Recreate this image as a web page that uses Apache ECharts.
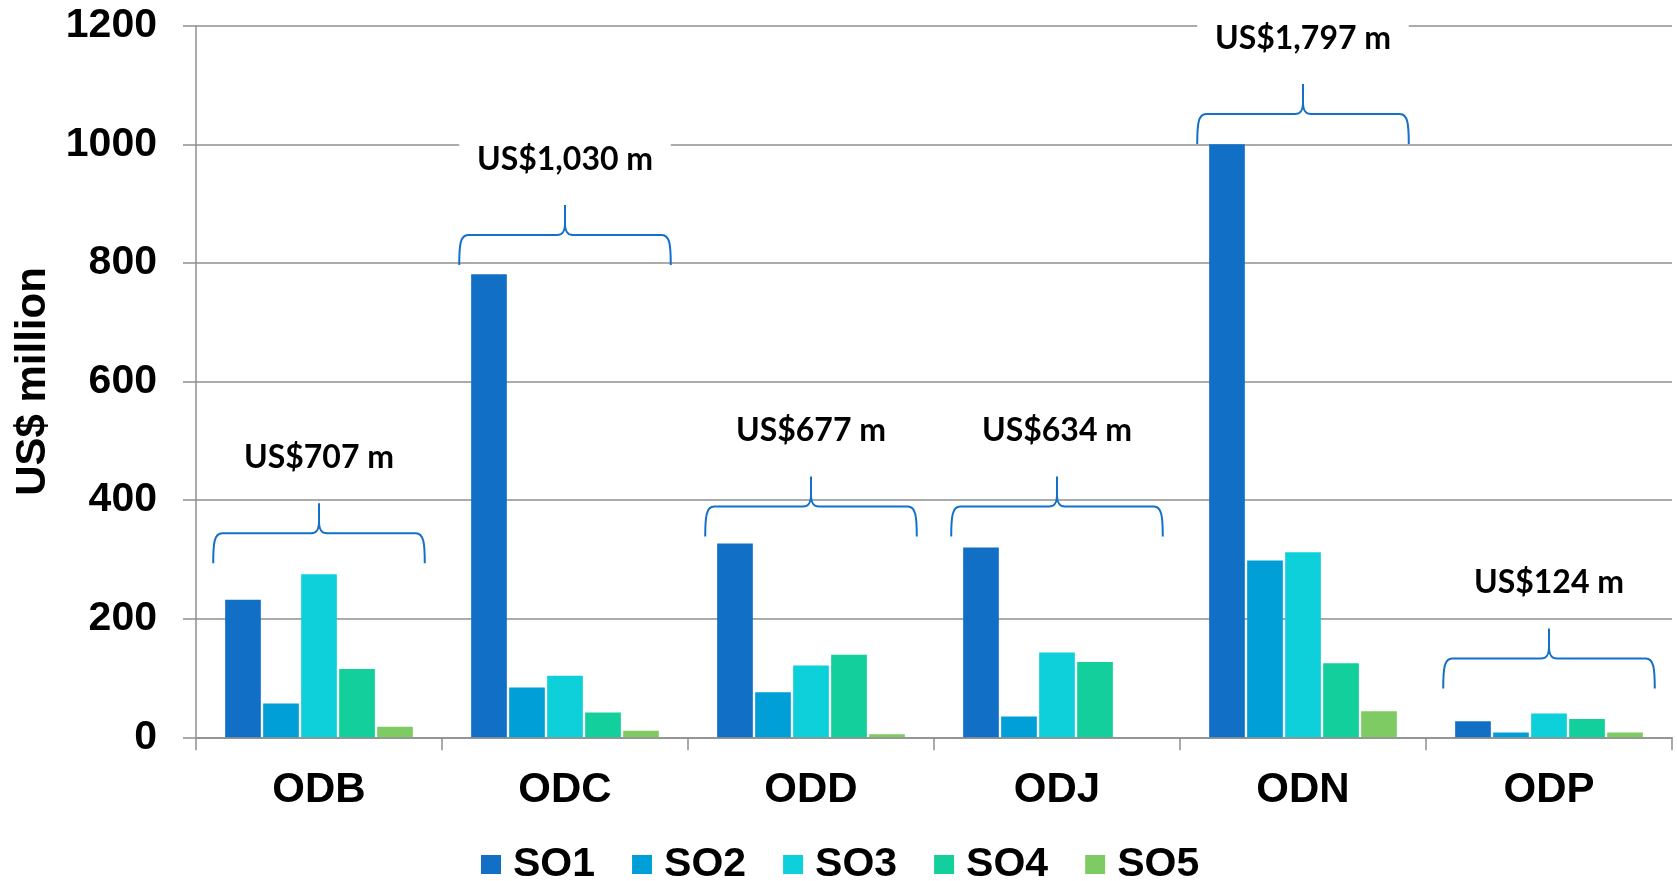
<!DOCTYPE html>
<html>
<head>
<meta charset="utf-8">
<title>Funding by outcome</title>
<script src="https://cdn.jsdelivr.net/npm/echarts@6/dist/echarts.min.js"></script>
<style>
  html, body { margin: 0; padding: 0; background: #fff; }
  #chart { width: 1677px; height: 881px; }
</style>
</head>
<body>
<div id="chart"></div>
<script>
// Programme codes along the x axis
const categories = ['ODB', 'ODC', 'ODD', 'ODJ', 'ODN', 'ODP'];

// Strategic objective budgets, US$ million
const seriesNames = ['SO1', 'SO2', 'SO3', 'SO4', 'SO5'];
const so1 = [232, 781, 327, 320, 1000, 27];
const so2 = [57, 84, 76, 35, 298, 8];
const so3 = [275, 104, 121, 143, 312, 40];
const so4 = [115, 42, 139, 127, 125, 31];
const so5 = [18, 11, 5, 0, 44, 8];

// Programme totals shown above each group, and the height of each brace
const totalLabels = ['US$707 m', 'US$1,030 m', 'US$677 m', 'US$634 m', 'US$1,797 m', 'US$124 m'];
const braceLevels = [344, 847, 389, 389, 1051, 133];

// Y axis ticks
const yTicks = [0, 200, 400, 600, 800, 1000, 1200];

const colors = ['#1170C6', '#009FD8', '#0DD0DA', '#12CF9B', '#7ECB63'];
const axisGray = '#8f8f8f';
const braceBlue = '#1470C8';
const tickFont = '"Liberation Sans", Arial, sans-serif';

const chart = echarts.init(document.getElementById('chart'));

const values = [so1, so2, so3, so4, so5];
const barSeries = seriesNames.map((name, i) => ({
  name: name,
  type: 'bar',
  data: values[i],
  barGap: '6.5%',
  barCategoryGap: '23.7%',
  itemStyle: { color: colors[i] },
  emphasis: { disabled: true }
}));

// Curly brace with a boxed total label above it
function renderBrace(params, api) {
  const idx = api.value(0);
  const level = api.value(1);
  const p = api.coord([idx, level]);
  const cx = p[0], y = p[1];
  const hw = api.size([1, 0])[0] * 0.43;
  const x0 = cx - hw, x1 = cx + hw;
  const leg = 30, tip = 30;
  const path =
    'M' + x0 + ' ' + (y + leg) +
    ' C' + x0 + ' ' + (y + 10) + ' ' + (x0 + 1) + ' ' + y + ' ' + (x0 + 9) + ' ' + y +
    ' L' + (cx - 8) + ' ' + y +
    ' C' + (cx - 2) + ' ' + y + ' ' + cx + ' ' + (y - 4) + ' ' + cx + ' ' + (y - 12) +
    ' L' + cx + ' ' + (y - tip) +
    ' M' + cx + ' ' + (y - 12) +
    ' C' + cx + ' ' + (y - 4) + ' ' + (cx + 2) + ' ' + y + ' ' + (cx + 8) + ' ' + y +
    ' L' + (x1 - 9) + ' ' + y +
    ' C' + (x1 - 1) + ' ' + y + ' ' + x1 + ' ' + (y + 10) + ' ' + x1 + ' ' + (y + leg);
  const ly = y - 75.5;
  return {
    type: 'group',
    children: [
      {
        type: 'rect',
        shape: { x: x0, y: ly - 18, width: 2 * hw, height: 36 },
        style: { fill: '#ffffff' }
      },
      {
        type: 'text',
        x: cx,
        y: ly,
        style: {
          text: totalLabels[idx],
          fill: '#000',
          font: 'bold 32px Lato, "Open Sans", sans-serif',
          align: 'center',
          verticalAlign: 'middle'
        }
      },
      {
        type: 'path',
        shape: { pathData: path },
        style: { fill: null, stroke: braceBlue, lineWidth: 2 }
      }
    ]
  };
}

const legendText = {
  fontFamily: tickFont,
  fontWeight: 'bold',
  fontSize: 41,
  color: '#000'
};

const option = {
  animation: false,
  color: colors,
  grid: { left: 196, right: 5, top: 25.7, bottom: 143.7, containLabel: false },
  legend: {
    data: seriesNames,
    left: 476,
    top: 839,
    itemWidth: 20,
    itemHeight: 19,
    itemGap: 37,
    icon: 'rect',
    // the first entry sits a little further from its neighbour
    formatter: n => (n === seriesNames[0] ? '{wide|' + n + '}' : '{std|' + n + '}'),
    textStyle: {
      ...legendText,
      padding: [0, 0, 0, 7],
      rich: {
        wide: { ...legendText, padding: [0, 12, 0, 0] },
        std: { ...legendText }
      }
    },
    selectedMode: false
  },
  xAxis: {
    type: 'category',
    data: categories,
    axisLine: { lineStyle: { color: axisGray, width: 1.5 } },
    axisTick: { show: true, length: 13, lineStyle: { color: axisGray, width: 1.5 } },
    axisLabel: {
      margin: 32,
      fontFamily: tickFont,
      fontWeight: 'bold',
      fontSize: 42,
      color: '#000'
    }
  },
  yAxis: {
    type: 'value',
    min: yTicks[0],
    max: yTicks[yTicks.length - 1],
    interval: yTicks[1] - yTicks[0],
    name: 'US$ million',
    nameLocation: 'middle',
    nameGap: 142,
    nameTextStyle: {
      fontFamily: tickFont,
      fontWeight: 'bold',
      fontSize: 42,
      color: '#000'
    },
    axisLine: { show: true, lineStyle: { color: axisGray, width: 1.5 } },
    axisTick: { show: true, length: 13, lineStyle: { color: axisGray, width: 1.5 } },
    splitLine: { show: true, lineStyle: { color: axisGray, width: 1.5 } },
    axisLabel: {
      margin: 39,
      fontFamily: tickFont,
      fontWeight: 'bold',
      fontSize: 41,
      color: '#000',
      formatter: v => (yTicks.indexOf(v) >= 0 ? String(v) : '')
    }
  },
  series: barSeries.concat([{
    type: 'custom',
    name: 'totals',
    renderItem: renderBrace,
    data: categories.map((c, i) => [i, braceLevels[i]]),
    encode: { x: 0, y: 1 },
    z: 5,
    silent: true,
    clip: false
  }])
};

chart.setOption(option);
</script>
</body>
</html>
